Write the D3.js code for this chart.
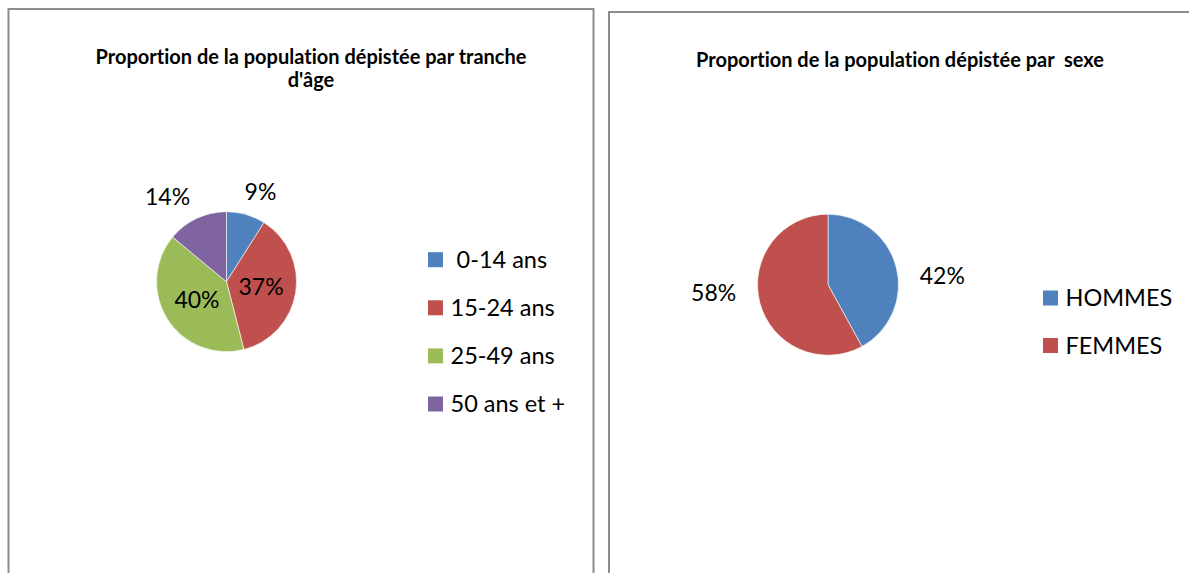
<!DOCTYPE html>
<html>
<head>
<meta charset="utf-8">
<script src="https://cdn.jsdelivr.net/npm/d3@7"></script>
<style>
  html, body { margin: 0; padding: 0; background: #fff; }
  svg { display: block; }
  text { font-family: Lato, "Open Sans", sans-serif; fill: #000; white-space: pre;
         font-variant-ligatures: none; font-feature-settings: "liga" 0, "clig" 0; }
</style>
</head>
<body>
<svg id="chart" width="1189" height="573"></svg>
<script>
// ---- Data ----
const ageCategories = [" 0-14 ans", "15-24 ans", "25-49 ans", "50 ans et +"];
const ageValues = [9, 37, 40, 14];
const ageColors = ["#4F81BD", "#C0504D", "#9BBB59", "#8064A2"];
const ageTitle = ["Proportion de la population dépistée par tranche", "d'âge"];

const sexCategories = ["HOMMES", "FEMMES"];
const sexValues = [42, 58];
const sexColors = ["#4F81BD", "#C0504D"];
const sexTitle = ["Proportion de la population dépistée par  sexe"];

// ---- Drawing ----
const svg = d3.select("#chart");

function frame(x, y, w, h) {
  svg.append("rect")
    .attr("x", x).attr("y", y).attr("width", w).attr("height", h)
    .attr("fill", "#fff").attr("stroke", "#8c8c8c").attr("stroke-width", 2);
}
frame(8.5, 9, 585, 620);
frame(609, 12, 620, 620);

function drawPie(cfg) {
  const g = svg.append("g");
  const t = g.append("text")
    .attr("text-anchor", "middle")
    .style("font-weight", "bold")
    .style("font-size", cfg.titleSize + "px");
  cfg.title.forEach((line, i) => {
    t.append("tspan").attr("x", cfg.titleX).attr("y", cfg.titleY + i * cfg.titleLead).text(line);
  });

  const total = d3.sum(cfg.values);
  const pie = d3.pie().sort(null).value(d => d)(cfg.values);
  const arc = d3.arc().innerRadius(0).outerRadius(cfg.r);
  const pg = g.append("g").attr("transform", `translate(${cfg.cx},${cfg.cy})`);
  pg.selectAll("path").data(pie).join("path")
    .attr("d", arc)
    .attr("fill", (d, i) => cfg.colors[i])
    .attr("stroke", "#fff").attr("stroke-width", 0.6);

  const fmt = v => Math.round(v / total * 100) + "%";
  pie.forEach((d, i) => {
    const txt = pg.append("text")
      .attr("text-anchor", "middle")
      .style("font-size", cfg.labelSize + "px")
      .text(fmt(d.data));
    const w = txt.node().getComputedTextLength();
    const h = cfg.labelSize * 0.8;
    const a = (d.startAngle + d.endAngle) / 2;
    const s = Math.sin(a), c = Math.cos(a);
    let x, y;
    if (cfg.inside[i]) {
      [x, y] = arc.centroid(d);
    } else {
      const R = cfg.r + cfg.gap;
      x = R * s + s * w / 2 * cfg.kx;
      y = (-R * c - c * h / 2 * cfg.ky) * cfg.fy;
    }
    txt.attr("x", x).attr("y", y + cfg.labelSize * 0.35);
  });

  const lg = g.append("g");
  cfg.categories.forEach((name, i) => {
    const yc = cfg.legY + i * cfg.legStep;
    lg.append("rect")
      .attr("x", cfg.legX).attr("y", yc - 7.5).attr("width", 15).attr("height", 15)
      .attr("fill", cfg.colors[i]);
    lg.append("text")
      .attr("x", cfg.legX + 22.5).attr("y", yc + cfg.legSize * 0.35)
      .style("font-size", cfg.legSize + "px")
      .text(name);
  });
}

drawPie({
  title: ageTitle, titleX: 311, titleY: 64, titleLead: 22.7, titleSize: 20,
  values: ageValues, colors: ageColors, categories: ageCategories,
  cx: 226.5, cy: 281.7, r: 70,
  inside: [false, true, true, false], gap: 12, kx: 2.5, ky: 1.3, fy: 1,
  labelSize: 23,
  legX: 428, legY: 259.7, legStep: 48.1, legSize: 23.5
});

drawPie({
  title: sexTitle, titleX: 900, titleY: 66.7, titleLead: 22.7, titleSize: 20,
  values: sexValues, colors: sexColors, categories: sexCategories,
  cx: 828, cy: 284.7, r: 70.5,
  inside: [false, false], gap: 25, kx: 1, ky: 0, fy: 0.35,
  labelSize: 23,
  legX: 1043, legY: 298, legStep: 47.5, legSize: 23.5
});
</script>
</body>
</html>
